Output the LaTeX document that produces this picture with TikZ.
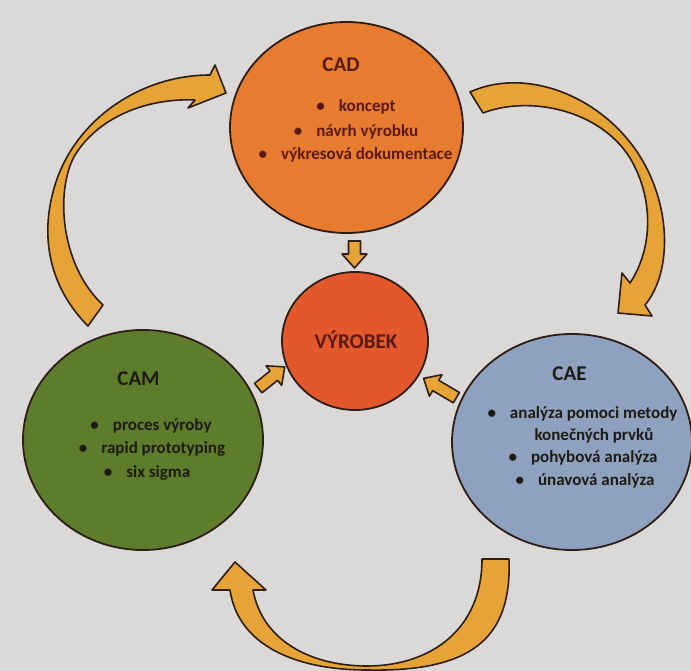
\documentclass[tikz,border=0pt]{standalone}
\usepackage{fontspec}
\setmainfont{Carlito}
\usetikzlibrary{shapes.geometric}
\definecolor{bgc}{HTML}{DAD9D7}
\definecolor{cadc}{HTML}{E77B2F}
\definecolor{vyrc}{HTML}{E2582A}
\definecolor{camc}{HTML}{5E7D2C}
\definecolor{caec}{HTML}{8EA2C0}
\definecolor{gold}{HTML}{E6A436}
\definecolor{edgec}{HTML}{2E1E16}
\definecolor{cadtext}{HTML}{5A1A12}
\definecolor{darktext}{HTML}{1E1A14}
\begin{document}
\begin{tikzpicture}[x=1pt,y=-1pt,
  disc/.style={ellipse, draw=edgec, line width=1.8pt, inner sep=0pt},
  ribbon/.style={draw=edgec, fill=gold, line width=1.6pt, line join=round},
  ttl/.style={anchor=base, font=\fontsize{21}{24}\selectfont\bfseries, inner sep=0pt},
  item/.style={anchor=base, font=\fontsize{17}{20}\selectfont\bfseries, inner sep=0pt},
  pics/blockarr/.style={code={\draw[ribbon] (-#1,-6) -- (#1-14,-6) -- (#1-14,-12.5) -- (#1,0) -- (#1-14,12.5) -- (#1-14,6) -- (-#1,6) -- cycle;}}
]
\useasboundingbox (0,0) rectangle (691,671);
\fill[bgc] (0,0) rectangle (691,671);

% big curved arrows
% CAM -> CAD
\draw[ribbon] (88,326) .. controls (52,290) and (38,240) .. (55,185)
  .. controls (75,120) and (140,75) .. (210,75)
  -- (215,65) -- (226,93) -- (188,108) -- (195,100)
  .. controls (150,98) and (100,115) .. (75,155)
  .. controls (55,190) and (60,265) .. (103,305) -- cycle;
% CAD -> CAE
\draw[ribbon] (470,92) .. controls (530,65) and (610,100) .. (645,165)
  .. controls (672,215) and (670,275) .. (645,305)
  -- (652,316) -- (618,313) -- (622,273) -- (630,283)
  .. controls (652,250) and (655,200) .. (630,158)
  .. controls (600,110) and (530,95) .. (483,113) -- cycle;
% CAE -> CAM
\draw[ribbon] (482,559) -- (509,559)
  .. controls (512,640) and (470,672) .. (367,670)
  .. controls (295,670) and (238,645) .. (230,590)
  -- (212,590) -- (235,562) -- (266,590) -- (253,590)
  .. controls (262,640) and (310,666) .. (367,666)
  .. controls (430,666) and (482,630) .. (482,559) -- cycle;

% circles
\node[disc, fill=cadc, minimum width=233pt, minimum height=211pt] (CAD) at (346.5,127.5) {};
\node[disc, fill=vyrc, minimum width=146pt, minimum height=138pt] (VYR) at (355,341) {};
\node[disc, fill=camc, minimum width=240pt, minimum height=220pt] (CAM) at (143,440) {};
\node[disc, fill=caec, minimum width=240pt, minimum height=216pt] (CAE) at (572,442) {};

% small arrows into VÝROBEK
\pic[rotate=-90] at (354.5,254.5) {blockarr=13.5};
\pic[rotate=38.7] at (271.5,377.5) {blockarr=17};
\pic[rotate=149.5] at (440,388) {blockarr=19};

% texts
\node[ttl, text=cadtext] (tCAD) at (341,72) {CAD};
\node[item, text=cadtext] (c1) at (356,112) {\textbullet\hspace{14pt}koncept};
\node[item, text=cadtext] (c2) at (356,137) {\textbullet\hspace{14pt}návrh výrobku};
\node[item, text=cadtext] (c3) at (355.5,160) {\textbullet\hspace{14pt}výkresová dokumentace};

\node[ttl, text=cadtext] (tVYR) at (356,348) {VÝROBEK};

\node[ttl, text=darktext] (tCAM) at (138.5,385) {CAM};
\node[item, text=darktext] (m1) at (151,430) {\textbullet\hspace{14pt}proces výroby};
\node[item, text=darktext] (m2) at (152,453) {\textbullet\hspace{14pt}rapid prototyping};
\node[item, text=darktext] (m3) at (147,477) {\textbullet\hspace{14pt}six sigma};

\node[ttl, text=darktext] (tCAE) at (569.5,380) {CAE};
\node[item, text=darktext] (e1) at (582.5,418) {\textbullet\hspace{14pt}analýza pomoci metody};
\node[item, text=darktext] (e2) at (594,440) {konečných prvků};
\node[item, text=darktext] (e3) at (583,462) {\textbullet\hspace{14pt}pohybová analýza};
\node[item, text=darktext] (e4) at (585,485) {\textbullet\hspace{14pt}únavová analýza};
\end{tikzpicture}
\end{document}
